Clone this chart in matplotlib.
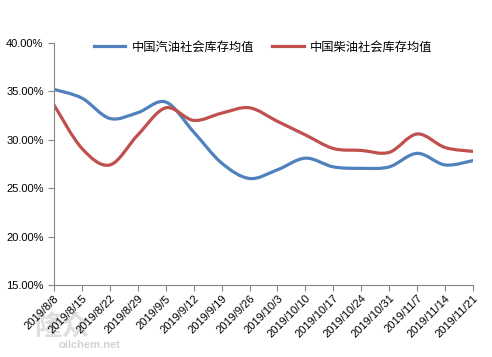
import numpy as np
import matplotlib
matplotlib.use("Agg")
import matplotlib.pyplot as plt
from matplotlib.path import Path
from matplotlib.patches import PathPatch
from matplotlib.lines import Line2D
from matplotlib.ticker import FuncFormatter

plt.rcParams['font.family'] = ['Liberation Sans', 'Noto Sans CJK SC', 'DejaVu Sans']

# -----------------------------
# Data
# -----------------------------
dates = ["2019/8/8", "2019/8/15", "2019/8/22", "2019/8/29", "2019/9/5",
         "2019/9/12", "2019/9/19", "2019/9/26", "2019/10/3", "2019/10/10",
         "2019/10/17", "2019/10/24", "2019/10/31", "2019/11/7", "2019/11/14",
         "2019/11/21"]
gasoline = [35.2, 34.3, 32.2, 32.8, 33.9, 30.8, 27.6, 26.0,
            26.9, 28.1, 27.2, 27.05, 27.2, 28.6, 27.4, 27.85]
diesel = [33.6, 29.1, 27.4, 30.5, 33.3, 32.0, 32.75, 33.3,
          31.9, 30.5, 29.1, 28.9, 28.7, 30.6, 29.2, 28.8]
labels = ["中国汽油社会库存均值", "中国柴油社会库存均值"]
colors = ["#4F81BD", "#C0504D"]


def smooth_path(xs, ys):
    """Excel-like smoothed line: cubic Bezier through every point."""
    p = np.column_stack([xs, ys]).astype(float)
    n = len(p)
    verts = [p[0]]
    codes = [Path.MOVETO]
    for i in range(n - 1):
        prev = p[i - 1] if i > 0 else p[i]
        nxt = p[i + 2] if i + 2 < n else p[i + 1]
        c1 = p[i] + (p[i + 1] - prev) / 6.0
        c2 = p[i + 1] - (nxt - p[i]) / 6.0
        verts += [c1, c2, p[i + 1]]
        codes += [Path.CURVE4] * 3
    return Path(verts, codes)


fig = plt.figure(figsize=(4.92, 3.57), dpi=100)
ax = fig.add_axes([0.1098, 0.2017, 0.8516, 0.678])

x = np.arange(len(dates))
for ys, c in zip([gasoline, diesel], colors):
    ax.add_patch(PathPatch(smooth_path(x, ys), fill=False, edgecolor=c,
                           lw=2.3, capstyle='round', joinstyle='round'))

ax.set_xlim(0, len(dates) - 1)
ax.set_ylim(15, 40)
ax.set_yticks(np.arange(15, 40.1, 5))
ax.yaxis.set_major_formatter(FuncFormatter(lambda v, _: f"{v:.2f}%"))
ax.set_xticks(x)
ax.set_xticklabels(dates, rotation=45, ha='right', rotation_mode='anchor')

for s in ['top', 'right']:
    ax.spines[s].set_visible(False)
for s in ['left', 'bottom']:
    ax.spines[s].set_color('#868686')
ax.tick_params(axis='both', colors='#868686', labelcolor='black',
               labelsize=8, length=4, direction='out')
ax.tick_params(axis='x', pad=2)

handles = [Line2D([], [], color=c, lw=2.3) for c in colors]
fig.legend(handles, labels, loc='center', bbox_to_anchor=(0.535, 0.868),
           ncol=2, frameon=False, handlelength=2.6,
           columnspacing=1.5, handletextpad=0.5,
           prop={'family': ['Noto Sans CJK SC', 'DejaVu Sans'], 'size': 8.8})

# watermark
fig.text(0.07, 0.06, "隆众", fontsize=20, color='#c8c8c8', alpha=0.6,
         fontweight='bold', family=['Noto Sans CJK SC'], zorder=-1)
fig.text(0.12, 0.025, "oilchem.net", fontsize=8, color='#c8c8c8',
         alpha=0.8, fontweight='bold', zorder=-1)

fig.savefig("out.png", dpi=100)
